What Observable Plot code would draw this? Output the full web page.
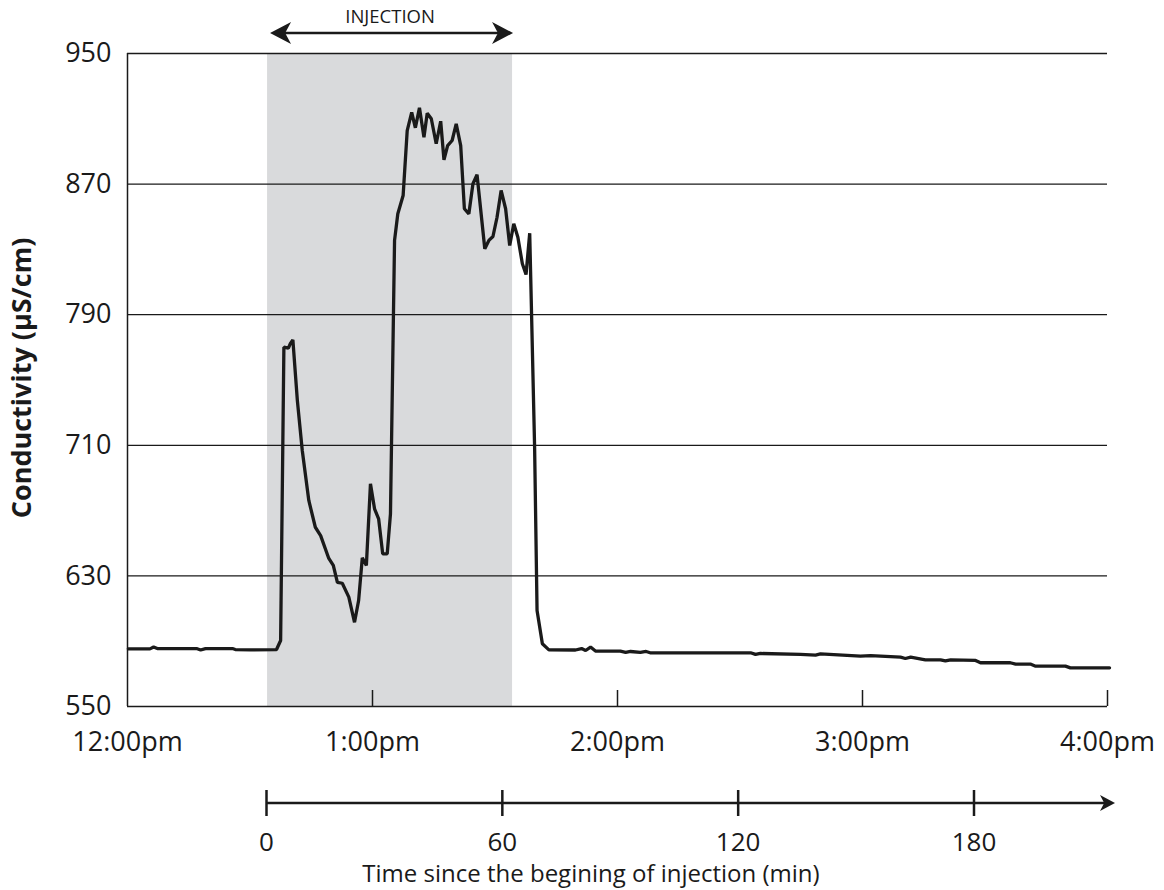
<!DOCTYPE html>
<html>
<head>
<meta charset="utf-8">
<script src="https://cdn.jsdelivr.net/npm/d3@7"></script>
<script src="https://cdn.jsdelivr.net/npm/@observablehq/plot@0.6"></script>
<style>
  html, body { margin: 0; padding: 0; background: #fff; }
  #chart { width: 1164px; font-family: "Open Sans", sans-serif; color: #1a1a1a; }
  #chart svg { display: block; overflow: visible; }
  .xtitle {
    box-sizing: border-box; width: 1164px; padding-left: 18px;
    text-align: center; font-size: 24px; line-height: 30px; height: 30px;
    white-space: nowrap;
  }
</style>
</head>
<body>
<div id="chart"></div>
<script>
// Stream conductivity record, sampled in minutes after 12:00pm
const minutes = [
  0.2, 5.5, 6.4, 7.3, 16.9, 17.9, 19.1, 25.7, 26.4, 30.1, 36.5,
  37.5, 38.3, 39.4, 39.9, 40.5, 41.6, 42.8, 44.4, 46.0, 47.3, 49.3, 50.4,
  51.4, 52.6, 54.2, 55.6, 56.6, 57.5, 58.5, 59.5, 60.5, 61.5, 62.5, 63.6,
  64.4, 65.4, 66.2, 67.5, 68.5, 69.6, 70.5, 71.5, 72.6, 73.4, 74.4, 75.6,
  76.7, 77.5, 78.4, 79.5, 80.5, 81.6, 82.5, 83.6, 84.6, 85.6, 87.5, 88.5,
  89.5, 90.5, 91.5, 92.6, 93.6, 94.6, 95.6, 96.7, 97.6, 98.5, 99.7, 100.3,
  101.6, 103.2, 109.7, 111.2, 112.2, 113.4, 114.6, 120.7, 122.0, 123.2,
  125.6, 127.0, 128.0, 152.6, 153.8, 155.0, 164.8, 168.5, 169.7, 179.5,
  182.0, 189.3, 190.5, 191.8, 195.4, 199.1, 200.3, 201.6, 207.7, 208.9,
  216.2, 217.5, 221.1, 222.4, 229.7, 230.9, 240.5
];
const conductivity = [
  585.3, 585.3, 586.4, 585.5, 585.5, 584.6, 585.5, 585.5, 584.9, 584.7, 584.9,
  590.4, 770.1, 769.5, 772.4, 774.6, 737.4, 706.8, 676.2, 659.8, 654.7, 640.7, 636.4,
  626.1, 625.5, 617.0, 601.6, 614.9, 641.1, 636.4, 686.4, 671.1, 665.0, 643.5, 643.5,
  668.0, 835.5, 851.8, 863.0, 902.8, 914.0, 904.5, 916.7, 898.7, 913.4, 910.0, 894.7,
  908.5, 884.9, 893.6, 896.7, 906.9, 893.6, 854.9, 851.8, 870.2, 875.7, 830.4, 835.5,
  837.9, 849.7, 866.1, 854.9, 832.4, 845.7, 837.5, 821.2, 814.6, 839.9, 708.8, 608.8,
  588.4, 584.7, 584.6, 585.5, 584.3, 586.4, 584.0, 583.9, 583.1, 583.7,
  583.1, 583.7, 582.9, 582.9, 581.9, 582.5, 581.9, 581.5, 582.2, 580.9,
  581.2, 580.2, 579.4, 580.2, 578.6, 578.6, 577.9, 578.6, 578.2, 576.8,
  576.8, 576.0, 576.0, 574.7, 574.7, 573.7, 573.7
];

// Tracer injection window, minutes after 12:00pm
const injectionStart = 34.3;
const injectionEnd = 94.3;

// Axis ticks
const clockTicks = [0, 60, 120, 180, 240];
const clockLabels = ["12:00pm", "1:00pm", "2:00pm", "3:00pm", "4:00pm"];
const conductivityTicks = [550, 630, 710, 790, 870, 950];
const elapsedTicks = [0, 60, 120, 180];
const elapsedLabels = ["0", "60", "120", "180"];
const elapsedMax = 216;

const ink = "#1a1a1a";
const noon = Date.UTC(2000, 0, 1, 12, 0, 0);
const at = (m) => new Date(noon + m * 60000);

const records = minutes.map((m, i) => ({time: at(m), value: conductivity[i]}));

// Filled arrowhead with a notched back; dir = +1 points right, -1 points left
function headPath(tipX, y, dir, len, half) {
  const back = tipX - dir * len;
  const notch = tipX - dir * len * 0.72;
  return `M${tipX},${y}L${back},${y - half}L${notch},${y}L${back},${y + half}Z`;
}

// Double-headed arrow spanning the injection window, drawn above the frame
function injectionArrow(index, scales, values, dims) {
  const x1 = scales.x(at(injectionStart)) + 3;
  const x2 = scales.x(at(injectionEnd)) + 1;
  const y = dims.marginTop - 20;
  const g = d3.create("svg:g");
  g.append("line")
    .attr("x1", x1 + 12).attr("x2", x2 - 12)
    .attr("y1", y).attr("y2", y)
    .attr("stroke", ink).attr("stroke-width", 2.5);
  g.append("path").attr("d", headPath(x1, y, -1, 21, 11)).attr("fill", ink);
  g.append("path").attr("d", headPath(x2, y, 1, 21, 11)).attr("fill", ink);
  return g.node();
}

// Elapsed-time axis line ending in an arrowhead
function elapsedArrow(index, scales, values, dims) {
  const x1 = scales.x(0);
  const x2 = scales.x(elapsedMax);
  const y = (dims.marginTop + dims.height - dims.marginBottom) / 2;
  const g = d3.create("svg:g");
  g.append("line")
    .attr("x1", x1).attr("x2", x2 - 8)
    .attr("y1", y).attr("y2", y)
    .attr("stroke", ink).attr("stroke-width", 2.6);
  g.append("path").attr("d", headPath(x2, y, 1, 15, 8)).attr("fill", ink);
  return g.node();
}

const baseStyle = {
  fontFamily: '"Open Sans", sans-serif',
  fontSize: "27px",
  color: ink,
  background: "transparent",
  overflow: "visible"
};

const main = Plot.plot({
  width: 1164,
  height: 770,
  marginLeft: 127,
  marginRight: 57,
  marginTop: 53,
  marginBottom: 64,
  style: baseStyle,
  x: {type: "utc", domain: [at(0), at(240)]},
  y: {domain: [550, 950]},
  marks: [
    Plot.rect([{start: at(injectionStart), end: at(injectionEnd)}], {
      x1: "start", x2: "end", fill: "#d9dadc"
    }),
    Plot.gridY(conductivityTicks.slice(1), {stroke: ink, strokeOpacity: 1, strokeWidth: 1.3}),
    Plot.ruleX([at(0)], {stroke: ink, strokeWidth: 1.5}),
    Plot.ruleY([550], {stroke: ink, strokeWidth: 1.5}),
    Plot.ruleX(clockTicks.slice(1).map(at), {y1: 550, y2: 550, insetBottom: 16, stroke: ink, strokeWidth: 1.5}),
    Plot.line(records, {x: "time", y: "value", stroke: ink, strokeWidth: 3.3, strokeLinejoin: "miter"}),
    Plot.axisY({
      ticks: conductivityTicks, tickSize: 0, tickPadding: 16, label: null,
      tickFormat: (d) => String(d)
    }),
    Plot.axisX({
      ticks: clockTicks.map(at), tickSize: 0, tickPadding: 25, label: null,
      tickFormat: (d) => clockLabels[clockTicks.indexOf(Math.round((d - noon) / 60000))]
    }),
    Plot.text(["Conductivity (µS/cm)"], {
      frameAnchor: "left", textAnchor: "middle", rotate: -90, dx: -105, dy: -2,
      fontWeight: "bold", fontSize: 27, fill: ink
    }),
    Plot.text(["INJECTION"], {
      x: () => at((injectionStart + injectionEnd) / 2),
      frameAnchor: "top", dy: -44, fontSize: 18.5, fill: ink
    }),
    injectionArrow
  ]
});

const elapsed = Plot.plot({
  width: 1164,
  height: 88,
  marginLeft: 266,
  marginRight: 49,
  marginTop: 20,
  marginBottom: 42,
  style: {...baseStyle, fontSize: "26px"},
  x: {domain: [0, elapsedMax]},
  marks: [
    elapsedArrow,
    Plot.tickX(elapsedTicks, {x: (d) => d, stroke: ink, strokeWidth: 2.5}),
    Plot.axisX({
      ticks: elapsedTicks, tickSize: 0, tickPadding: 16, label: null,
      tickFormat: (d) => elapsedLabels[elapsedTicks.indexOf(d)]
    })
  ]
});

const chart = document.getElementById("chart");
chart.append(main, elapsed);
const title = document.createElement("div");
title.className = "xtitle";
title.textContent = "Time since the begining of injection (min)";
chart.append(title);
</script>
</body>
</html>
